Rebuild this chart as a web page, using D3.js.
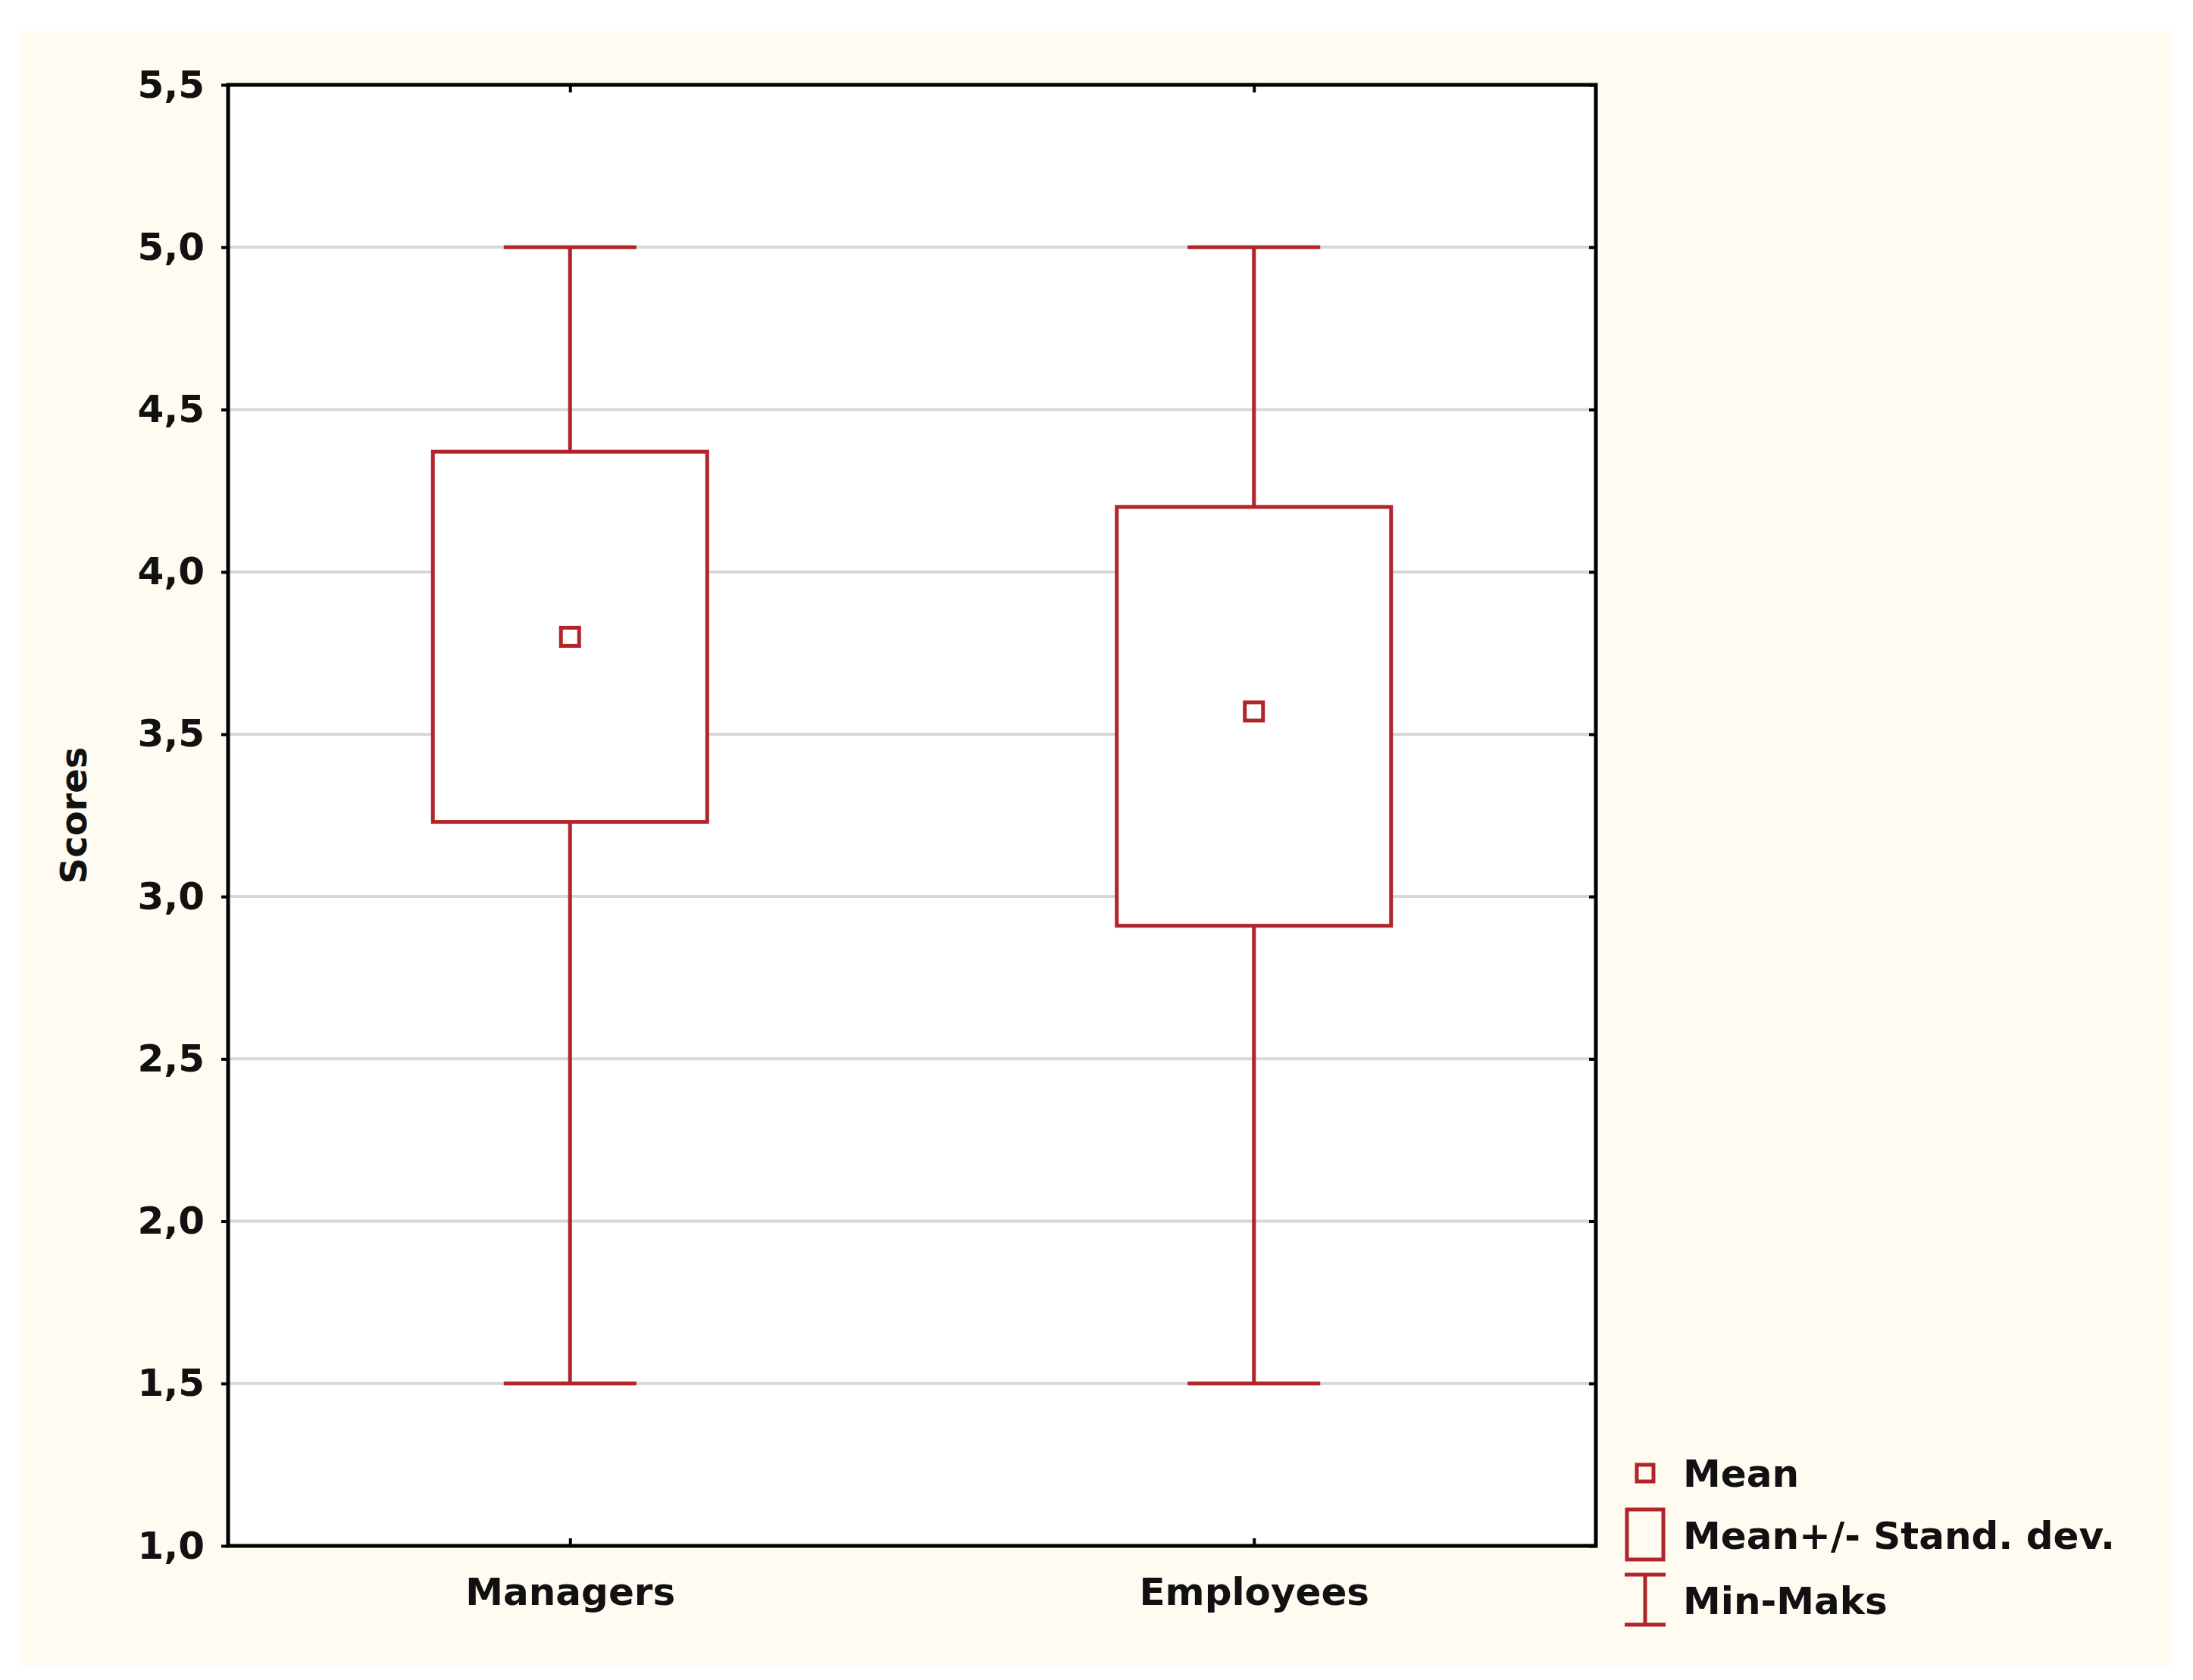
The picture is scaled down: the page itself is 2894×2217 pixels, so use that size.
<!DOCTYPE html>
<html><head><meta charset="utf-8">
<script src="https://cdn.jsdelivr.net/npm/d3@7"></script>
<style>body{margin:0;background:#fff}</style></head>
<body><script>
const categories = ["Managers","Employees"];
const means = [3.80, 3.57];
const sdLow = [3.23, 2.91];
const sdHigh = [4.37, 4.20];
const mins = [1.5, 1.5];
const maxs = [5.0, 5.0];
const yTicks = [1.0,1.5,2.0,2.5,3.0,3.5,4.0,4.5,5.0,5.5];
const legendItems = ["Mean","Mean+/- Stand. dev.","Min-Maks"];

const W=2894,H=2217, red="#b0242a", font="'DejaVu Sans', Verdana, sans-serif";
const svg=d3.select("body").append("svg").attr("width",W).attr("height",H);
svg.append("rect").attr("x",26).attr("y",41).attr("width",2840).attr("height",2157).attr("fill","#fffbf0");
const L=301,R=2106,T=112,B=2040;
const y=d3.scaleLinear().domain([1,5.5]).range([B,T]);
const x=d3.scalePoint().domain(categories).range([L,R]).padding(0.5);
svg.append("rect").attr("x",L).attr("y",T).attr("width",R-L).attr("height",B-T).attr("fill","#fff");
svg.append("g").selectAll("line").data(yTicks.slice(1,-1)).join("line")
 .attr("x1",L).attr("x2",R).attr("y1",d=>y(d)).attr("y2",d=>y(d)).attr("stroke","#d8d8d8").attr("stroke-width",4);
const fmt=d=>d3.format(".1f")(d).replace(".",",");
const ya=svg.append("g").attr("transform",`translate(${L},0)`).call(d3.axisLeft(y).tickValues(yTicks).tickFormat(fmt).tickSize(9).tickPadding(22));
ya.select(".domain").remove();
ya.selectAll("line").attr("stroke","#000").attr("stroke-width",4);
ya.selectAll("text").attr("font-family",font).attr("font-size",50).attr("fill","#111").attr("font-weight","bold");
const yr=svg.append("g").attr("transform",`translate(${R},0)`).call(d3.axisLeft(y).tickValues(yTicks).tickFormat("").tickSize(9));
yr.select(".domain").remove(); yr.selectAll("line").attr("stroke","#000").attr("stroke-width",4);
const xa=svg.append("g").attr("transform",`translate(0,${B})`).call(d3.axisBottom(x).tickSize(10).tickPadding(32));
xa.select(".domain").remove(); xa.selectAll("line").attr("stroke","#000").attr("stroke-width",4).attr("y2",-10);
xa.selectAll("text").attr("font-family",font).attr("font-size",50).attr("fill","#111").attr("font-weight","bold");
const xt=svg.append("g").attr("transform",`translate(0,${T})`).call(d3.axisBottom(x).tickFormat("").tickSize(10));
xt.select(".domain").remove(); xt.selectAll("line").attr("stroke","#000").attr("stroke-width",4);
svg.append("rect").attr("x",L).attr("y",T).attr("width",R-L).attr("height",B-T).attr("fill","none").attr("stroke","#000").attr("stroke-width",5);
svg.append("text").attr("transform",`translate(114,${(T+B)/2}) rotate(-90)`).attr("text-anchor","middle")
 .attr("font-family",font).attr("font-size",48).attr("font-weight","bold").attr("fill","#111").text("Scores");
const bw=362,cw=175,ms=24,sw=5;
const g=svg.append("g").selectAll("g").data(categories).join("g");
g.append("line").attr("x1",d=>x(d)).attr("x2",d=>x(d)).attr("y1",(d,i)=>y(maxs[i])).attr("y2",(d,i)=>y(mins[i])).attr("stroke",red).attr("stroke-width",sw);
g.append("line").attr("x1",d=>x(d)-cw/2).attr("x2",d=>x(d)+cw/2).attr("y1",(d,i)=>y(maxs[i])).attr("y2",(d,i)=>y(maxs[i])).attr("stroke",red).attr("stroke-width",sw);
g.append("line").attr("x1",d=>x(d)-cw/2).attr("x2",d=>x(d)+cw/2).attr("y1",(d,i)=>y(mins[i])).attr("y2",(d,i)=>y(mins[i])).attr("stroke",red).attr("stroke-width",sw);
g.append("rect").attr("x",d=>x(d)-bw/2).attr("width",bw).attr("y",(d,i)=>y(sdHigh[i])).attr("height",(d,i)=>y(sdLow[i])-y(sdHigh[i])).attr("fill","#fff").attr("stroke",red).attr("stroke-width",sw);
g.append("rect").attr("x",d=>x(d)-ms/2).attr("width",ms).attr("y",(d,i)=>y(means[i])-ms/2).attr("height",ms).attr("fill","#fff").attr("stroke",red).attr("stroke-width",sw);
// legend
const lx=2171, ly=[1944,2026,2112];
svg.append("rect").attr("x",lx-11).attr("y",ly[0]-11).attr("width",22).attr("height",22).attr("fill","none").attr("stroke",red).attr("stroke-width",sw);
svg.append("rect").attr("x",lx-24).attr("y",ly[1]-34).attr("width",48).attr("height",66).attr("fill","none").attr("stroke",red).attr("stroke-width",sw);
svg.append("path").attr("d",`M${lx-27},${ly[2]-34}H${lx+27}M${lx},${ly[2]-34}V${ly[2]+32}M${lx-27},${ly[2]+32}H${lx+27}`).attr("stroke",red).attr("stroke-width",sw).attr("fill","none");
svg.append("g").selectAll("text").data(legendItems).join("text").attr("x",2221).attr("y",(d,i)=>ly[i]).attr("dy","0.36em")
 .attr("font-family",font).attr("font-size",50).attr("font-weight","bold").attr("fill","#111").text(d=>d);
</script></body></html>
